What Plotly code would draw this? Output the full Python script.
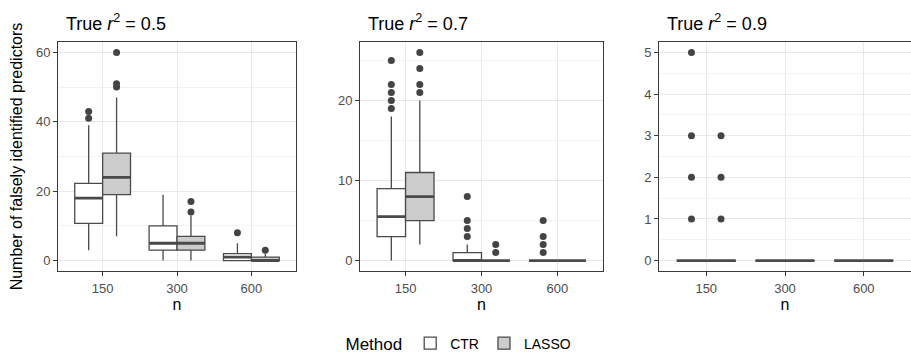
import plotly.graph_objects as go

# ---------------- data ----------------
categories = ["150", "300", "600"]
r2_labels = ["0.5", "0.7", "0.9"]

# CTR box statistics, one row per panel (r2 = 0.5, 0.7, 0.9), one value per n
ctr_q1 = [[10.75, 3, 0], [3, 0, 0], [0, 0, 0]]
ctr_median = [[18, 5, 1], [5.5, 0, 0], [0, 0, 0]]
ctr_q3 = [[22.25, 10, 2], [9, 1, 0], [0, 0, 0]]
ctr_lower = [[3, 0, 0], [0, 0, 0], [0, 0, 0]]
ctr_upper = [[39, 19, 5], [18, 2, 0], [0, 0, 0]]
ctr_out_n = [["150", "150", "600"],
             ["150"] * 5 + ["300"] * 4 + ["600"] * 4,
             ["150"] * 4]
ctr_out_y = [[41, 43, 8],
             [19, 20, 21, 22, 25, 3, 4, 5, 8, 1, 2, 3, 5],
             [1, 2, 3, 5]]

# LASSO box statistics
lasso_q1 = [[19, 3, 0], [5, 0, 0], [0, 0, 0]]
lasso_median = [[24, 5, 0], [8, 0, 0], [0, 0, 0]]
lasso_q3 = [[31, 7, 1], [11, 0, 0], [0, 0, 0]]
lasso_lower = [[7, 0, 0], [2, 0, 0], [0, 0, 0]]
lasso_upper = [[47, 13, 2], [20, 0, 0], [0, 0, 0]]
lasso_out_n = [["150", "150", "150", "300", "300", "600"],
               ["150"] * 4 + ["300"] * 2,
               ["150"] * 3]
lasso_out_y = [[50, 51, 60, 14, 17, 3],
               [21, 22, 24, 26, 1, 2],
               [1, 2, 3]]

y_ranges = [[-3, 63], [-1.3, 27.3], [-0.25, 5.25]]
y_dticks = [20, 10, 1]

# ---------------- layout geometry ----------------
W, H = 911, 356
x_domains_px = [(58, 296), (360, 603), (659, 911)]
y_domain = [(H - 271) / H, (H - 42) / H]

LINE = "#4a4a4a"
BORDER = "#3a3a3a"
PT = "#444444"
FONT = "Liberation Sans, Arial, Helvetica, sans-serif"

methods = [
    dict(name="CTR", fill="#ffffff", q1=ctr_q1, med=ctr_median, q3=ctr_q3,
         lo=ctr_lower, hi=ctr_upper, on=ctr_out_n, oy=ctr_out_y),
    dict(name="LASSO", fill="#cccccc", q1=lasso_q1, med=lasso_median, q3=lasso_q3,
         lo=lasso_lower, hi=lasso_upper, on=lasso_out_n, oy=lasso_out_y),
]

fig = go.Figure()
for p in range(3):
    xa = "x" if p == 0 else f"x{p + 1}"
    ya = "y" if p == 0 else f"y{p + 1}"
    for m in methods:
        fig.add_trace(go.Box(
            x=categories, q1=m["q1"][p], median=m["med"][p], q3=m["q3"][p],
            lowerfence=m["lo"][p], upperfence=m["hi"][p],
            name=m["name"], legendgroup=m["name"], showlegend=(p == 0),
            offsetgroup=m["name"], alignmentgroup="a",
            fillcolor=m["fill"], line=dict(color=LINE, width=1.3),
            whiskerwidth=0, boxpoints=False, xaxis=xa, yaxis=ya,
        ))
        # thicker median line (ggplot fatten)
        fig.add_trace(go.Box(
            x=categories, q1=m["med"][p], median=m["med"][p], q3=m["med"][p],
            lowerfence=m["med"][p], upperfence=m["med"][p],
            name=m["name"], legendgroup=m["name"], showlegend=False,
            offsetgroup=m["name"], alignmentgroup="a",
            fillcolor="rgba(0,0,0,0)", line=dict(color=LINE, width=2.8),
            whiskerwidth=0, boxpoints=False, xaxis=xa, yaxis=ya,
        ))
        fig.add_trace(go.Scatter(
            x=m["on"][p], y=m["oy"][p], mode="markers",
            marker=dict(color=PT, size=7),
            offsetgroup=m["name"], alignmentgroup="a",
            showlegend=False, legendgroup=m["name"], xaxis=xa, yaxis=ya,
        ))

layout = dict(
    width=W, height=H,
    margin=dict(l=0, r=0, t=0, b=0, autoexpand=False),
    paper_bgcolor="white", plot_bgcolor="white",
    boxmode="group", boxgap=0.25, boxgroupgap=0,
    scattermode="group", scattergap=0.25,
    font=dict(family=FONT, color="#000000"),
    showlegend=True,
    legend=dict(
        orientation="h", x=460 / W, xanchor="center", y=(H - 344) / H, yanchor="middle",
        title=dict(text="Method", font=dict(size=17, color="#000000"), side="left"),
        font=dict(size=14, color="#000000"),
        itemwidth=30, tracegroupgap=0,
    ),
    annotations=[],
)

for p in range(3):
    sfx = "" if p == 0 else str(p + 1)
    x0, x1 = x_domains_px[p]
    layout["xaxis" + sfx] = dict(
        domain=[x0 / W, x1 / W], anchor="y" + sfx,
        type="category", categoryorder="array", categoryarray=categories,
        range=[-0.6, 2.6], showline=True, mirror=True, linecolor=BORDER, linewidth=1,
        ticks="outside", ticklen=4, tickcolor=BORDER, tickwidth=1,
        tickfont=dict(size=13, color="#4d4d4d"), ticklabelstandoff=1,
        showgrid=True, gridcolor="#e8e8e8", gridwidth=1, zeroline=False,
        title=dict(text="n", font=dict(size=16, color="#000000"), standoff=4),
        automargin=False, fixedrange=True,
    )
    layout["yaxis" + sfx] = dict(
        domain=y_domain, anchor="x" + sfx,
        range=y_ranges[p], dtick=y_dticks[p], tick0=0,
        showline=True, mirror=True, linecolor=BORDER, linewidth=1,
        ticks="outside", ticklen=4, tickcolor=BORDER, tickwidth=1,
        tickfont=dict(size=13, color="#4d4d4d"),
        showgrid=True, gridcolor="#e8e8e8", gridwidth=1, zeroline=False,
        minor=dict(dtick=y_dticks[p] / 2, showgrid=True, gridcolor="#f2f2f2",
                   gridwidth=1, ticklen=0),
        automargin=False, fixedrange=True,
    )
    layout["annotations"].append(dict(
        text=f"True <i>r</i><sup>2</sup> = {r2_labels[p]}",
        xref="paper", yref="paper", x=x0 / W, y=(H - 23) / H,
        xanchor="left", yanchor="middle", xshift=6, showarrow=False,
        font=dict(size=18, color="#000000", family=FONT),
    ))

layout["yaxis"]["title"] = dict(
    text="Number of falsely identified predictors",
    font=dict(size=16, color="#000000"), standoff=9,
)

fig.update_layout(**layout)
fig.write_html("out.html")
